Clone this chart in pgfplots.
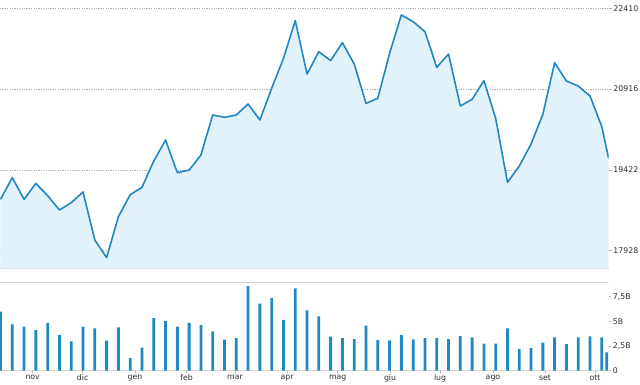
\documentclass[border=0pt]{standalone}
\usepackage{pgfplots}
\usepackage{pgfplotstable}
\pgfplotsset{compat=1.18}
\usepackage{fontspec}
\setmainfont{DejaVu Sans}
\definecolor{linec}{RGB}{33,135,194}
\definecolor{fillc}{RGB}{226,242,250}
\definecolor{barc}{RGB}{30,136,195}
\definecolor{txt}{RGB}{45,45,45}
\definecolor{gridc}{RGB}{175,175,175}
\pgfplotstableread{
i v
0 18877
1 19278
2 18877
3 19173
4 18945
5 18680
6 18815
7 19013
8 18125
9 17798
10 18556
11 18963
12 19099
13 19586
14 19974
15 19370
16 19419
17 19697
18 20437
19 20394
20 20437
21 20640
22 20344
23 20930
24 21485
25 22182
26 21195
27 21608
28 21442
29 21775
30 21380
31 20653
32 20745
33 21578
34 22287
35 22163
36 21978
37 21319
38 21565
39 20603
40 20727
41 21072
42 20375
43 19191
44 19493
45 19900
46 20449
47 21405
48 21066
49 20973
50 20788
51 20221
51.58 19635
}\price
\pgfplotstableread{
i v
0 5.98
1 4.70
2 4.46
3 4.12
4 4.86
5 3.61
6 2.97
7 4.46
8 4.29
9 3.04
10 4.39
11 1.28
12 2.33
13 5.34
14 5.03
15 4.46
16 4.86
17 4.63
18 3.99
19 3.14
20 3.31
21 8.58
22 6.79
23 7.36
24 5.14
25 8.34
26 6.11
27 5.51
28 3.45
29 3.31
30 3.21
31 4.56
32 3.11
33 3.07
34 3.61
35 3.18
36 3.31
37 3.31
38 3.21
39 3.51
40 3.38
41 2.74
42 2.74
43 4.29
44 2.20
45 2.30
46 2.84
47 3.38
48 2.70
49 3.38
50 3.48
51 3.38
51.42 1.86
}\vol
\begin{document}
\begin{tikzpicture}
\useasboundingbox (0bp,0bp) rectangle (640bp,385bp);
\begin{axis}[
  at={(0bp,116.3bp)}, anchor=south west, scale only axis,
  width=608.7bp, height=268.7bp,
  xmin=-0.042, xmax=51.585, ymin=17594, ymax=22564,
  scaled y ticks=false,
  axis x line*=bottom, axis y line*=right,
  x axis line style={color=gray!40, line width=1.6bp},
  y axis line style={draw=none},
  xtick=\empty,
  ytick={17928,19422,20916,22410},
  yticklabels={17928,19422,20916,22410},
  yticklabel pos=right,
  ymajorgrids, grid style={gridc, dash pattern=on 1.2bp off 1.2bp, line width=0.6bp},
  tick align=outside, major tick length=3bp,
  y tick style={gridc, line width=0.6bp},
  tick label style={font=\fontsize{7.8bp}{9bp}\selectfont, text=txt},
  yticklabel style={inner sep=1.5bp},
]
\addplot[draw=none, fill=fillc] table[x=i,y=v]{\price} \closedcycle;
\addplot[linec, line width=1.6bp, line join=round] table[x=i,y=v]{\price};
\end{axis}
\begin{axis}[
  at={(0bp,14.3bp)}, anchor=south west, scale only axis,
  width=608.7bp, height=88.4bp,
  xmin=-0.042, xmax=51.585, ymin=0, ymax=8.96,
  axis x line*=bottom, axis y line*=right,
  x axis line style={color=gray!30, line width=0.8bp},
  y axis line style={draw=none},
  xtick={2.73,6.97,11.41,15.79,19.89,24.3,28.6,33.04,37.28,41.77,46.18,50.42},
  xticklabels={nov,dic,gen,feb,mar,apr,mag,giu,lug,ago,set,ott},
  ytick={0,2.5,5,7.5},
  yticklabels={0,{2,5B},5B,{7,5B}},
  yticklabel pos=right,
  tick align=outside, major tick length=2.5bp,
  tick style={gridc, line width=0.6bp},
  tick label style={font=\fontsize{7.8bp}{9bp}\selectfont, text=txt},
  yticklabel style={inner sep=1.5bp},
  xticklabel style={inner sep=1.5bp},
]
\draw[gray!35, line width=1.3bp] (rel axis cs:0,1) -- (rel axis cs:1,1);
\addplot[ybar, bar width=2.8bp, bar shift=0pt, fill=barc, draw=none] table[x=i,y=v]{\vol};
\end{axis}
\end{tikzpicture}
\end{document}
